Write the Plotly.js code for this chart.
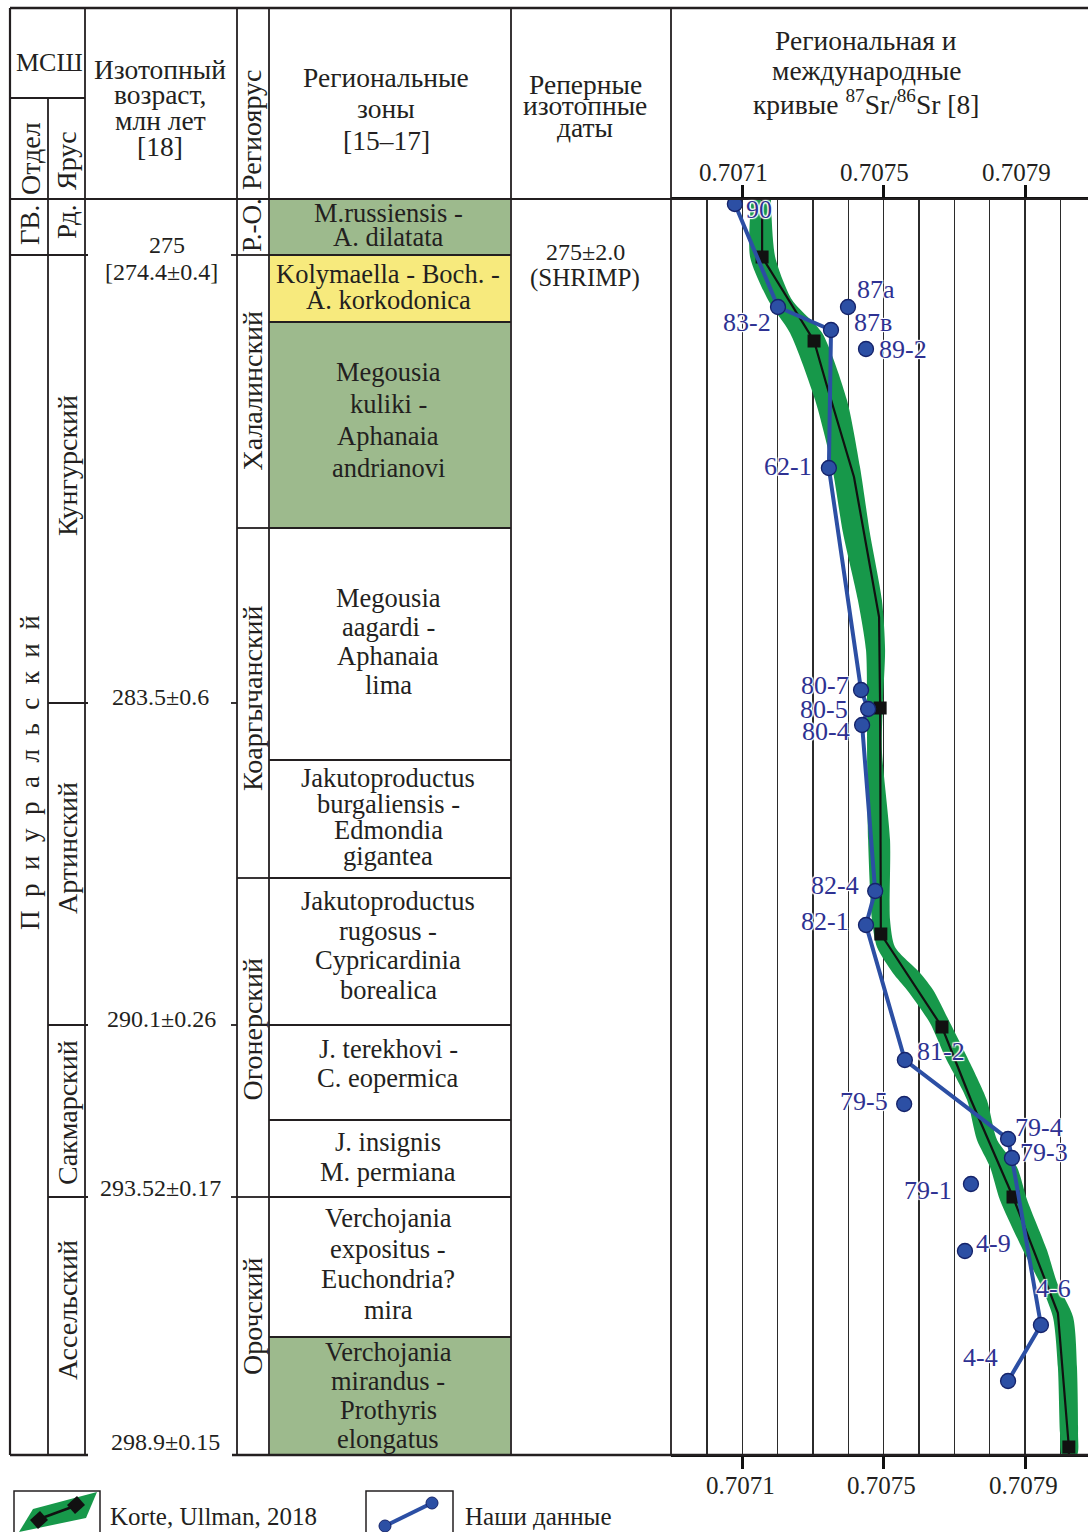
<!DOCTYPE html>
<html><head><meta charset="utf-8">
<script src="https://cdn.plot.ly/plotly-3.0.1.min.js"></script>
<style>html,body{margin:0;padding:0;background:#fff}#chart{width:1088px;height:1532px}</style>
</head><body><div id="chart"></div>
<script>
// ================= DATA =================
// Vertical scale: stratigraphic level, 0 = top of the column, 1256 = base of the Asselian
const seriesNames = ['ГВ.', 'П р и у р а л ь с к и й'];
const seriesBounds = [0, 56, 1256];
const stageNames = ['Рд.', 'Кунгурский', 'Артинский', 'Сакмарский', 'Ассельский'];
const stageBounds = [0, 56, 504, 826, 998, 1256];
const regioNames = ['Р.-О.', 'Халалинский', 'Коаргычанский', 'Огонерский', 'Орочский'];
const regioBounds = [0, 56, 329, 679, 998, 1256];
const zoneNames = [
  ['M.russiensis -', 'A. dilatata'],
  ['Kolymaella - Boch. -', 'A. korkodonica'],
  ['Megousia', 'kuliki -', 'Aphanaia', 'andrianovi'],
  ['Megousia', 'aagardi -', 'Aphanaia', 'lima'],
  ['Jakutoproductus', 'burgaliensis -', 'Edmondia', 'gigantea'],
  ['Jakutoproductus', 'rugosus -', 'Cypricardinia', 'borealica'],
  ['J. terekhovi -', 'C. eopermica'],
  ['J. insignis', 'M. permiana'],
  ['Verchojania', 'expositus -', 'Euchondria?', 'mira'],
  ['Verchojania', 'mirandus -', 'Prothyris', 'elongatus']
];
const zoneBounds = [0, 56, 123, 329, 561, 679, 826, 921, 998, 1138, 1256];
const zoneKind = ['g', 'y', 'g', 'w', 'w', 'w', 'w', 'w', 'w', 'g'];
const ageLabels = [['275', '[274.4±0.4]'], ['283.5±0.6'], ['290.1±0.26'], ['293.52±0.17'], ['298.9±0.15']];
const ageLevels = [56, 504, 826, 998, 1256];
const refDateText = ['275±2.0', '(SHRIMP)'];
const refDateLevel = 58;

// Sr isotope axis
const srTicks = [0.7071, 0.7075, 0.7079];
const srTickText = ['0.7071', '0.7075', '0.7079'];

// Korte, Ullman, 2018 reference curve
const korteLevel = [0, 58, 142, 184, 278, 418, 509, 735, 828, 901, 998, 1114, 1248, 1256];
const korteSr = [0.707156, 0.707156, 0.707303, 0.707337, 0.707416, 0.707487, 0.707490, 0.707492, 0.707665, 0.707747, 0.707866, 0.707993, 0.708024, 0.708024];
const korteNodeLevel = [58, 142, 509, 735, 828, 998, 1248];
const korteNodeSr = [0.707156, 0.707303, 0.707490, 0.707492, 0.707665, 0.707866, 0.708024];
const bandLevel = [1, 58, 101, 134, 201, 268, 334, 401, 451, 501, 551, 641, 721, 748, 774, 791, 824, 858, 901, 941, 968, 1001, 1051, 1084, 1118, 1168, 1234, 1256];
const bandLo = [0.707125, 0.707122, 0.707173, 0.707235, 0.707306, 0.707354, 0.707385, 0.707427, 0.707450, 0.707453, 0.707453, 0.707456, 0.707467, 0.707481, 0.707526, 0.707566, 0.707631, 0.707674, 0.707736, 0.707764, 0.707801, 0.707829, 0.707894, 0.707942, 0.707979, 0.707993, 0.707999, 0.708005];
const bandHi = [0.707181, 0.707193, 0.707241, 0.707326, 0.707396, 0.707433, 0.707461, 0.707495, 0.707504, 0.707498, 0.707495, 0.707518, 0.707518, 0.707532, 0.707603, 0.707640, 0.707688, 0.707736, 0.707792, 0.707821, 0.707877, 0.707906, 0.707962, 0.707991, 0.708036, 0.708047, 0.708050, 0.708047];

// Our data
const sampleIds = ['90', '83-2', '87a', '87в', '89-2', '62-1', '80-7', '80-5', '80-4', '82-4', '82-1', '81-2', '79-5', '79-4', '79-3', '79-1', '4-9', '4-6', '4-4'];
const sampleSr = [0.707079, 0.707201, 0.707399, 0.707351, 0.707450, 0.707345, 0.707436, 0.707456, 0.707439, 0.707476, 0.707450, 0.707560, 0.707558, 0.707852, 0.707863, 0.707747, 0.707730, 0.707945, 0.707852];
const sampleLevel = [5, 108, 108, 131, 150, 269, 491, 510, 526, 692, 726, 861, 905, 940, 959, 985, 1052, 1126, 1182];
const trendIds = ['90', '83-2', '87в', '62-1', '80-7', '80-5', '80-4', '82-4', '82-1', '81-2', '79-4', '79-3', '4-6', '4-4'];

// ================= STYLE / LAYOUT =================
const FONT = '"Liberation Serif", "Times New Roman", serif';
const INK = '#231f20';
const LABEL = '#2e3192';
const ZONE_COL = {g: '#9dba8d', y: '#f7ea7d', w: 'rgba(0,0,0,0)'};
const BAND = '#17984a';
const BLUE = '#2c4fa4';
const W = 1088, H = 1532;
const X = p => p / W, Y = p => 1 - p / H;
const PLOT_TOP = 199, PLOT_BOT = 1455;
const LINE_W = 1.8;
const F_HEAD = 27.5, F_ROT = 28, F_ZONE = 26.5, F_AGE = 24, F_LAB = 26;

// label placement for sample ids: [xanchor, xshift, yshift]
const labelPos = {
  '90': ['left', 9, -5], '83-2': ['right', -5, -15], '87a': ['left', 7, 18], '87в': ['left', 21, 8],
  '89-2': ['left', 11, 0], '62-1': ['right', -15, 2], '80-7': ['right', -10, 5], '80-5': ['right', -18, 0],
  '80-4': ['right', -10, -6], '82-4': ['right', -14, 6], '82-1': ['right', -15, 4], '81-2': ['left', 10, 9],
  '79-5': ['right', -14, 3], '79-4': ['left', 5, 12], '79-3': ['left', 6, 6], '79-1': ['right', -17, -6],
  '4-9': ['left', 9, 8], '4-6': ['left', -7, 37], '4-4': ['right', -8, 24]
};
const zoneLineGap = [24, 26, 32, 29, 26, 29.5, 29, 30, 30.5, 29];
const zoneShift = [2, 2, 5, 3, 2, 6, 9, 2, 3, 1];
const stageShift = [5, 13, 16, -2, 16];
const regioShift = [2, 0, 5, 8, 10];
const seriesShift = [2, 82];

const shapes = [];
const ann = [];
function pline(x0, y0, x1, y1, w, col) {
  shapes.push({type: 'line', xref: 'paper', yref: 'paper', x0: X(x0), x1: X(x1), y0: Y(y0), y1: Y(y1),
    line: {color: col || INK, width: w || LINE_W}, layer: 'above'});
}
function dline(x0, x1, lv, w) {
  shapes.push({type: 'line', xref: 'paper', yref: 'y', x0: X(x0), x1: X(x1), y0: lv, y1: lv,
    line: {color: INK, width: w || LINE_W}, layer: 'above'});
}
function fnt(size, color) { return {family: FONT, size: size, color: color || INK}; }
function ptxt(x, y, text, o) {
  ann.push(Object.assign({xref: 'paper', yref: 'paper', x: X(x), y: Y(y), text: text, showarrow: false,
    xanchor: 'center', yanchor: 'middle', font: fnt(25)}, o || {}));
}
function dtxt(x, lv, text, o) {
  ann.push(Object.assign({xref: 'paper', yref: 'y', x: X(x), y: lv, text: text, showarrow: false,
    xanchor: 'center', yanchor: 'middle', font: fnt(25)}, o || {}));
}

// ---- frame ----
pline(10, 8, 1088, 8, 2.5);
pline(10, PLOT_TOP, 1088, PLOT_TOP, 2);
pline(10, PLOT_BOT, 88, PLOT_BOT, 2.5);
pline(232, PLOT_BOT, 1088, PLOT_BOT, 2.5);
pline(10, 98, 85, 98);
[[10, 8], [48, 98], [85, 8], [237, 8], [269, 8], [511, 8], [671, 8]].forEach(v => pline(v[0], v[1], v[0], PLOT_BOT, v[0] === 10 ? 2.2 : LINE_W));

// ---- zone fills & boundaries ----
zoneNames.forEach((z, i) => {
  if (zoneKind[i] !== 'w') {
    shapes.push({type: 'rect', xref: 'paper', yref: 'y', x0: X(270), x1: X(510), y0: zoneBounds[i], y1: zoneBounds[i + 1],
      fillcolor: ZONE_COL[zoneKind[i]], line: {width: 0}, layer: 'below'});
  }
  const mid = (zoneBounds[i] + zoneBounds[i + 1]) / 2;
  const n = z.length;
  z.forEach((t, k) => {
    dtxt(388, mid, t, {yshift: zoneShift[i] - (k - (n - 1) / 2) * zoneLineGap[i], font: fnt(F_ZONE)});
  });
});
zoneBounds.slice(1, -1).forEach(lv => dline(269, 511, lv));
regioBounds.slice(1, -1).forEach(lv => dline(237, 269, lv));
stageBounds.slice(1, -1).forEach(lv => dline(48, 88, lv));
seriesBounds.slice(1, -1).forEach(lv => dline(10, 48, lv));
ageLevels.slice(0, -1).forEach(lv => dline(231, 237, lv));

// ---- rotated unit names ----
stageNames.forEach((s, i) => dtxt(67, (stageBounds[i] + stageBounds[i + 1]) / 2, s,
  {textangle: -90, yshift: stageShift[i], font: fnt(i === 0 ? 27 : F_ROT)}));
regioNames.forEach((s, i) => dtxt(252, (regioBounds[i] + regioBounds[i + 1]) / 2, s,
  {textangle: -90, yshift: regioShift[i], font: fnt(i === 0 ? 27 : F_ROT)}));
seriesNames.forEach((s, i) => {
  const t = s.indexOf(' ') > 0 ? s.split(' ').join('\u2002') : s;
  dtxt(30, (seriesBounds[i] + seriesBounds[i + 1]) / 2, t, {textangle: -90, yshift: seriesShift[i], font: fnt(27)});
});

// ---- isotopic ages ----
dtxt(167, ageLevels[0], ageLabels[0][0], {yshift: 10, font: fnt(F_AGE)});
dtxt(161, ageLevels[0], ageLabels[0][1], {yshift: -17, font: fnt(F_AGE)});
[[1, 160, 6], [2, 161, 6], [3, 160, 9], [4, 165, 13]].forEach(a => {
  dtxt(a[1], ageLevels[a[0]], ageLabels[a[0]][0], {yshift: a[2], font: fnt(F_AGE)});
});

// ---- reference date ----
dtxt(585, refDateLevel, refDateText[0], {yshift: 5, font: fnt(24)});
dtxt(585, refDateLevel, refDateText[1], {yshift: -21, font: fnt(25)});

// ---- header ----
ptxt(49, 62, 'МСШ', {font: fnt(26)});
ptxt(30, 159, 'Отдел', {textangle: -90, font: fnt(F_ROT)});
ptxt(66, 161, 'Ярус', {textangle: -90, font: fnt(F_ROT)});
['Изотопный', 'возраст,', 'млн лет', '[18]'].forEach((t, k) => ptxt(160, 69 + k * 25.7, t, {font: fnt(F_HEAD)}));
ptxt(251, 130, 'Региоярус', {textangle: -90, font: fnt(F_ROT)});
['Региональные', 'зоны', '[15–17]'].forEach((t, k) => ptxt(386, 78 + k * 31, t, {font: fnt(F_HEAD)}));
['Реперные', 'изотопные', 'даты'].forEach((t, k) => ptxt(585, 85 + k * 21, t, {font: fnt(F_HEAD)}));
['Региональная и', 'международные', 'кривые <sup>87</sup>Sr/<sup>86</sup>Sr [8]'].forEach((t, k) => ptxt(866, 40 + k * 31, t, {font: fnt(F_HEAD)}));

// ---- Sr axis tick labels (top and bottom) ----
srTicks.forEach((v, i) => {
  ann.push({xref: 'x', yref: 'paper', x: v, y: Y(172), text: srTickText[i], showarrow: false,
    xanchor: 'center', yanchor: 'middle', xshift: -9, font: fnt(25)});
  ann.push({xref: 'x', yref: 'paper', x: v, y: Y(1485), text: srTickText[i], showarrow: false,
    xanchor: 'center', yanchor: 'middle', xshift: -2, font: fnt(25)});
});

// ---- sample labels ----
sampleIds.forEach((id, i) => {
  const p = labelPos[id];
  ann.push({xref: 'x', yref: 'y', x: sampleSr[i], y: sampleLevel[i], text: id, showarrow: false,
    xanchor: p[0], yanchor: 'middle', xshift: p[1], yshift: p[2],
    font: {family: FONT, size: F_LAB, color: LABEL, shadow: '1px 1px 1px #fff, -1px -1px 1px #fff, 1px -1px 1px #fff, -1px 1px 1px #fff'}});
});

// ---- legend ----
const lp = pts => 'M ' + pts.map(q => X(q[0]) + ' ' + Y(q[1])).join(' L ') + ' Z';
shapes.push({type: 'rect', xref: 'paper', yref: 'paper', x0: X(14), x1: X(100), y0: Y(1491), y1: Y(1560), line: {color: INK, width: 1.5}, layer: 'above'});
shapes.push({type: 'rect', xref: 'paper', yref: 'paper', x0: X(366), x1: X(453), y0: Y(1491), y1: Y(1560), line: {color: INK, width: 1.5}, layer: 'above'});
shapes.push({type: 'path', xref: 'paper', yref: 'paper', path: lp([[19, 1532], [33, 1509], [97, 1492], [86, 1518]]), fillcolor: BAND, line: {width: 0}, layer: 'above'});
shapes.push({type: 'path', xref: 'paper', yref: 'paper', path: lp([[30, 1520], [40, 1511], [48, 1520], [38, 1529]]), fillcolor: '#111', line: {width: 0}, layer: 'above'});
shapes.push({type: 'path', xref: 'paper', yref: 'paper', path: lp([[67, 1505], [77, 1496], [85, 1505], [75, 1514]]), fillcolor: '#111', line: {width: 0}, layer: 'above'});
pline(42, 1518, 72, 1507, 2.5, '#111');
shapes.push({type: 'line', xref: 'paper', yref: 'paper', x0: X(385), y0: Y(1526), x1: X(432), y1: Y(1503), line: {color: BLUE, width: 4}, layer: 'above'});
shapes.push({type: 'circle', xref: 'paper', yref: 'paper', x0: X(379), x1: X(391), y0: Y(1520), y1: Y(1532), fillcolor: BLUE, line: {color: '#16246a', width: 1}, layer: 'above'});
shapes.push({type: 'circle', xref: 'paper', yref: 'paper', x0: X(426), x1: X(438), y0: Y(1497), y1: Y(1509), fillcolor: BLUE, line: {color: '#16246a', width: 1}, layer: 'above'});
ptxt(108, 1516, 'Korte, Ullman, 2018', {xanchor: 'left'});
ptxt(463, 1516, 'Наши данные', {xanchor: 'left'});

// ================= TRACES =================
const bandX = bandLo.concat(bandHi.slice().reverse());
const bandY = bandLevel.concat(bandLevel.slice().reverse());
const trendSr = trendIds.map(id => sampleSr[sampleIds.indexOf(id)]);
const trendLevel = trendIds.map(id => sampleLevel[sampleIds.indexOf(id)]);

const traces = [
  {type: 'scatter', mode: 'lines', x: bandX, y: bandY, fill: 'toself', fillcolor: BAND,
    line: {width: 0, shape: 'spline', smoothing: 0.7, color: BAND}, xaxis: 'x', yaxis: 'y', hoverinfo: 'skip'},
  {type: 'scatter', mode: 'lines', x: korteSr, y: korteLevel, line: {color: '#111', width: 2.2}, xaxis: 'x', yaxis: 'y'},
  {type: 'scatter', mode: 'markers', x: korteNodeSr, y: korteNodeLevel, marker: {symbol: 'square', size: 13, color: '#111'}, xaxis: 'x', yaxis: 'y'},
  {type: 'scatter', mode: 'lines', x: trendSr, y: trendLevel, line: {color: BLUE, width: 4}, xaxis: 'x2', yaxis: 'y'},
  {type: 'scatter', mode: 'markers', x: sampleSr, y: sampleLevel,
    marker: {symbol: 'circle', size: 15, color: BLUE, line: {color: '#15236a', width: 1.3}}, xaxis: 'x2', yaxis: 'y'}
];

const xRange = [0.7068982, 0.7080782];
const axisCommon = {
  range: xRange, tickmode: 'array', tickvals: srTicks, ticktext: srTickText, showticklabels: false,
  ticks: 'outside', ticklen: 12, tickwidth: 3, tickcolor: '#111',
  showline: true, linecolor: '#111', linewidth: 2, zeroline: false, fixedrange: true
};
const layout = {
  width: W, height: H, margin: {l: 0, r: 0, t: 0, b: 0},
  paper_bgcolor: '#fff', plot_bgcolor: 'rgba(0,0,0,0)', showlegend: false,
  xaxis: Object.assign({}, axisCommon, {
    domain: [X(671), 1], side: 'top', anchor: 'y',
    showgrid: true, gridcolor: '#2b2b2b', gridwidth: 1.5,
    minor: {tickmode: 'linear', tick0: 0.707, dtick: 0.0001, showgrid: true, gridcolor: '#2b2b2b', gridwidth: 1.5, ticks: ''}
  }),
  xaxis2: Object.assign({}, axisCommon, {
    domain: [X(671), 1], side: 'bottom', anchor: 'y', overlaying: 'x', matches: 'x', showgrid: false
  }),
  yaxis: {domain: [Y(PLOT_BOT), Y(PLOT_TOP)], range: [1256, 0], visible: false, fixedrange: true},
  shapes: shapes, annotations: ann
};
Plotly.newPlot('chart', traces, layout, {staticPlot: true, displayModeBar: false});
</script></body></html>
